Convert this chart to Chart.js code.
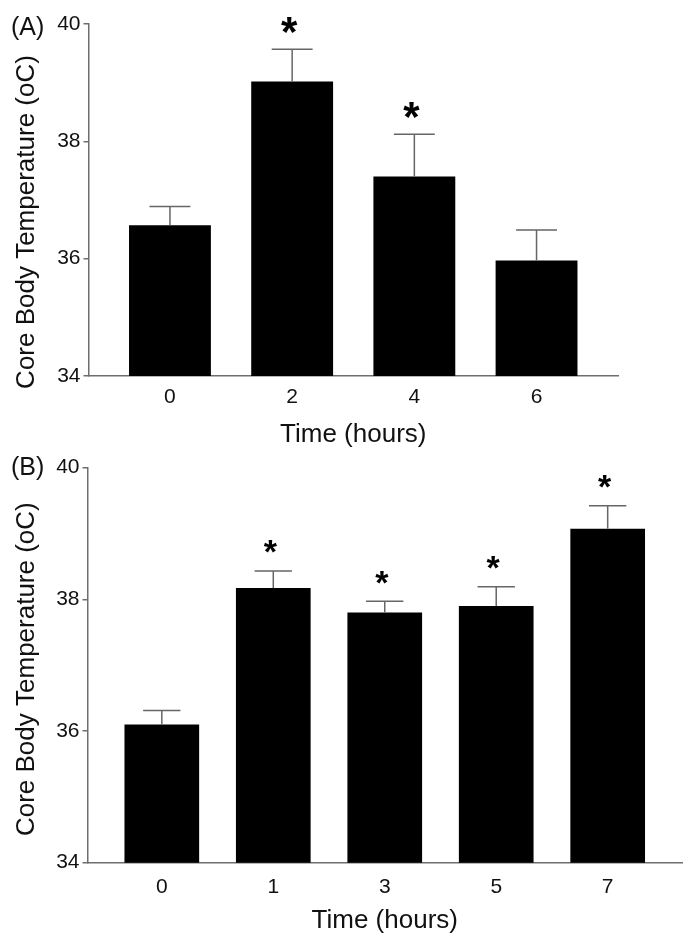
<!DOCTYPE html>
<html>
<head>
<meta charset="utf-8">
<script src="https://cdn.jsdelivr.net/npm/chart.js@4"></script>
<style>
  body { margin: 0; background: #fff; }
  #wrap { position: relative; width: 689px; height: 946px; }
  canvas { position: absolute; left: 0; }
  #panelA { top: 0; }
  #panelB { top: 440px; }
</style>
</head>
<body>
<div id="wrap">
  <canvas id="panelA" width="689" height="460"></canvas>
  <canvas id="panelB" width="689" height="506"></canvas>
</div>
<script>
// panel A
const hoursA = ["0", "2", "4", "6"];
const tempA = [36.57, 39.02, 37.40, 35.97];
const semA = [0.32, 0.55, 0.72, 0.52];
const starsA = [false, true, true, false];

// panel B
const hoursB = ["0", "1", "3", "5", "7"];
const tempB = [36.10, 38.17, 37.80, 37.90, 39.07];
const semB = [0.21, 0.26, 0.17, 0.29, 0.35];
const starsB = [false, true, true, true, true];

const yTicks = [34, 36, 38, 40];
const yTitle = "Core Body Temperature (oC)";
const xTitle = "Time (hours)";

const FONT = "'Liberation Sans', Arial, Helvetica, sans-serif";
const AXIS_GREY = "#6e6e6e";

// error bars (upper only), asterisks, y title and the panel letter
function makeExtras(values, errors, stars, letter, cfg) {
  return {
    id: "extras",
    afterDatasetsDraw(chart) {
      const ctx = chart.ctx;
      const y = chart.scales.y;
      const meta = chart.getDatasetMeta(0);
      const area = chart.chartArea;
      ctx.save();
      meta.data.forEach((bar, i) => {
        const top = y.getPixelForValue(values[i] + errors[i]);
        const cap = bar.width / 4;
        ctx.strokeStyle = "#666";
        ctx.lineWidth = 1.5;
        ctx.beginPath();
        ctx.moveTo(bar.x, bar.y);
        ctx.lineTo(bar.x, top);
        ctx.moveTo(bar.x - cap, top);
        ctx.lineTo(bar.x + cap, top);
        ctx.stroke();

        if (stars[i]) {
          ctx.font = "bold " + cfg.starSize + "px " + FONT;
          ctx.fillStyle = "#000";
          ctx.textAlign = "center";
          ctx.textBaseline = "alphabetic";
          const m = ctx.measureText("*");
          const cy = top - 24;
          ctx.fillText("*", bar.x - 3, cy + (m.actualBoundingBoxAscent - m.actualBoundingBoxDescent) / 2);
        }
      });

      // y title sits a little below the axis centre in the original
      ctx.fillStyle = "#111";
      ctx.font = "26px " + FONT;
      ctx.textAlign = "center";
      ctx.textBaseline = "middle";
      ctx.save();
      ctx.translate(27, (area.top + area.bottom) / 2 + cfg.titleShift);
      ctx.rotate(-Math.PI / 2);
      ctx.fillText(yTitle, 0, 0);
      ctx.restore();

      ctx.font = "25px " + FONT;
      ctx.textAlign = "left";
      ctx.fillText(letter, 11, 28);
      ctx.restore();
    }
  };
}

function makeChart(id, labels, values, errors, stars, letter, cfg) {
  const n = labels.length;
  return new Chart(document.getElementById(id), {
    type: "bar",
    data: {
      datasets: [{
        data: values.map((v, i) => ({ x: i, y: v })),
        backgroundColor: "#000",
        borderWidth: 0,
        categoryPercentage: 1,
        barPercentage: 0.67
      }]
    },
    options: {
      responsive: false,
      animation: false,
      events: [],
      layout: { padding: { left: 0, right: cfg.padRight, top: cfg.padTop, bottom: 0 } },
      plugins: { legend: { display: false }, tooltip: { enabled: false } },
      scales: {
        x: {
          type: "linear",
          offset: false,
          min: -2 / 3,
          max: n - 1 + 2 / 3,
          afterBuildTicks: (s) => { s.ticks = labels.map((_, i) => ({ value: i })); },
          afterFit: (s) => { s.height = cfg.xHeight; },
          grid: { display: false, drawTicks: false, offset: false },
          border: { display: true, color: AXIS_GREY, width: 1.5 },
          ticks: {
            padding: cfg.xTickPad,
            color: "#111",
            font: { family: FONT, size: 21 },
            callback: (v) => labels[v]
          },
          title: {
            display: true,
            text: xTitle,
            color: "#111",
            font: { family: FONT, size: 26 },
            padding: { top: 0, bottom: 10 }
          }
        },
        y: {
          min: 34,
          max: 40,
          afterBuildTicks: (s) => { s.ticks = yTicks.map((v) => ({ value: v })); },
          afterFit: (s) => { s.width = cfg.yWidth; },
          grid: { drawOnChartArea: false, drawTicks: true, tickLength: 5, color: AXIS_GREY, lineWidth: 1.5 },
          border: { display: true, color: AXIS_GREY, width: 1.5 },
          ticks: {
            padding: 3,
            color: "#111",
            font: { family: FONT, size: 21 }
          },
          title: { display: false }
        }
      }
    },
    plugins: [makeExtras(values, errors, stars, letter, cfg)]
  });
}

makeChart("panelA", hoursA, tempA, semA, starsA, "(A)", {
  padRight: 71, padTop: 24, xHeight: 84, xTickPad: 9, yWidth: 88.5, starSize: 42, titleShift: 22
});

makeChart("panelB", hoursB, tempB, semB, starsB, "(B)", {
  padRight: 7, padTop: 27.6, xHeight: 83.3, xTickPad: 12, yWidth: 87.5, starSize: 34, titleShift: 4
});
</script>
</body>
</html>
